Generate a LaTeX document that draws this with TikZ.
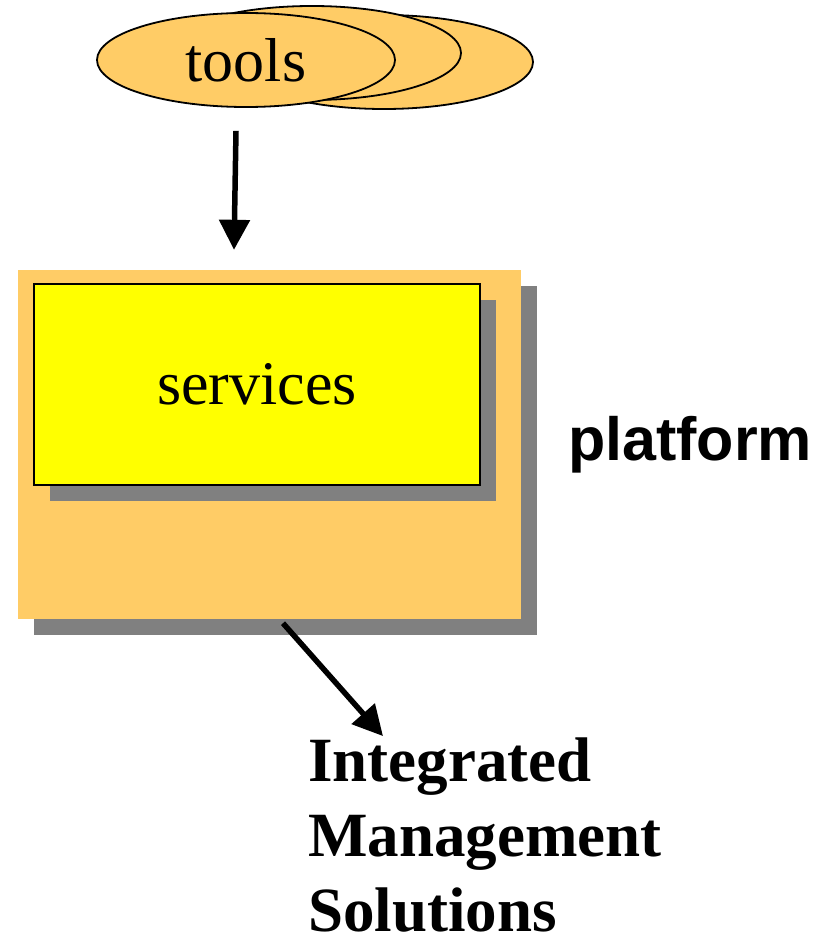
\documentclass[tikz,border=0pt]{standalone}
\usepackage{fontspec}
\setmainfont{Liberation Serif}
\newfontfamily\arialfont{Liberation Sans}
\usepackage{tikz}
\usetikzlibrary{shapes.geometric,arrows.meta,shadows}
\definecolor{lightorange}{HTML}{FFCC66}
\definecolor{shadowgray}{HTML}{808080}
\definecolor{brightyellow}{RGB}{255,255,0}
\tikzset{
	toolsell/.style={ellipse,draw,line width=1.8pt,fill=lightorange,minimum width=298pt,minimum height=94pt,inner sep=0pt},
	grayshadow/.style={drop shadow={shadow xshift=16pt,shadow yshift=-16pt,fill=shadowgray,opacity=1}},
	flow/.style={line width=5.5pt,-{Triangle[length=30pt,width=30pt]}}
}
\begin{document}
\begin{tikzpicture}[x=1pt,y=-1pt]
	\useasboundingbox (0,0) rectangle (838,939);
	\node [toolsell] (toolsc) at (384,62) {};
	\node [toolsell] (toolsb) at (312,53) {};
	\node [toolsell,font=\fontsize{62}{70}\selectfont] (tools) at (246,60) {tools};
	\node [grayshadow,fill=lightorange,minimum width=503pt,minimum height=349pt,inner sep=0pt] (box) at (269.5,444.5) {};
	\node [grayshadow,draw,line width=2.2pt,fill=brightyellow,minimum width=446pt,minimum height=201pt,inner sep=0pt,font=\fontsize{62}{70}\selectfont] (services) at (257,384.5) {services};
	\node [anchor=base west,inner sep=0pt,font=\arialfont\bfseries\fontsize{61}{67}\selectfont] (platform) at (568,460) {platform};
	\node [anchor=base west,inner sep=0pt,align=left,font=\bfseries\fontsize{63}{75}\selectfont] (ims) at (308,931) {Integrated\\Management\\Solutions};
	\draw [flow] ([xshift=-10pt,yshift=-23pt]tools.south) -- ([xshift=-35.5pt,yshift=20pt]box.north);
	\draw [flow] ([xshift=13.5pt,yshift=-4pt]box.south) -- ([xshift=75pt,yshift=1pt]ims.north west);
\end{tikzpicture}
\end{document}
